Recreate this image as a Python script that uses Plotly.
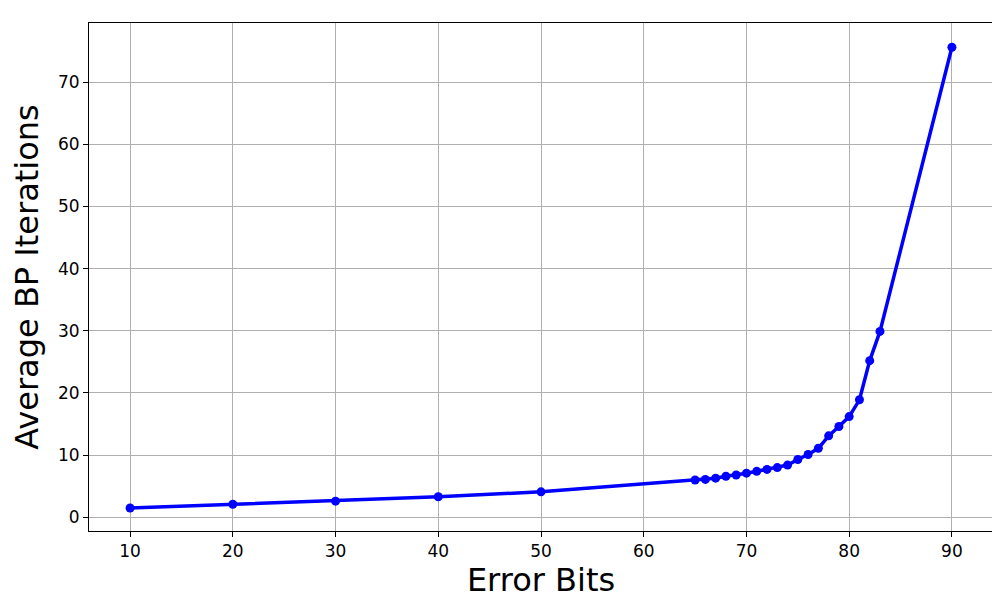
import plotly.graph_objects as go

error_bits = [10, 20, 30, 40, 50, 65, 66, 67, 68, 69, 70, 71, 72, 73, 74, 75, 76, 77, 78, 79, 80, 81, 82, 83, 90]
avg_iters = [1.5, 2.1, 2.6, 3.3, 4.1, 6.0, 6.1, 6.3, 6.6, 6.8, 7.1, 7.4, 7.7, 8.0, 8.4, 9.3, 10.1, 11.1, 13.1, 14.6, 16.2, 18.9, 25.2, 29.9, 75.6]

fig = go.Figure(go.Scatter(x=error_bits, y=avg_iters, mode='lines+markers',
                           line=dict(color='blue', width=3.5), marker=dict(color='blue', size=9)))

axis = dict(showgrid=True, gridcolor='#b0b0b0', gridwidth=1, zeroline=False, showline=True, mirror=True,
            linecolor='black', linewidth=1, ticks='outside', ticklen=5, tickcolor='black', automargin=False,
            tickfont=dict(size=17, color='black'))
fig.update_xaxes(axis, range=[6, 94], dtick=10, title=dict(text='Error Bits', font=dict(size=32, color='black'), standoff=8))
fig.update_yaxes(axis, range=[-2.2, 79.5], dtick=10, title=dict(text='Average BP Iterations', font=dict(size=32, color='black'), standoff=10))
fig.update_layout(width=1000, height=600, plot_bgcolor='white', paper_bgcolor='white', showlegend=False,
                  font=dict(family='DejaVu Sans'), margin=dict(l=81, r=15, t=15, b=77, autoexpand=False))

fig.write_html("out.html")
